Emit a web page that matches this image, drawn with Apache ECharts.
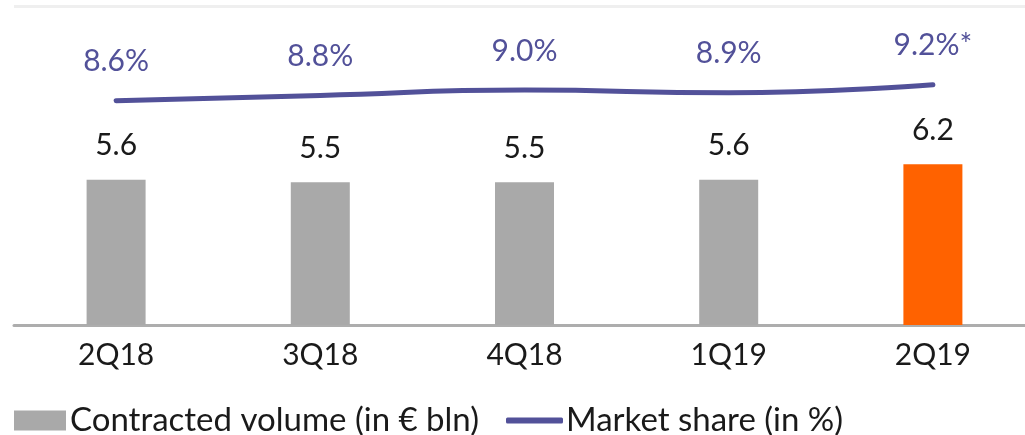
<!DOCTYPE html>
<html>
<head>
<meta charset="utf-8">
<script src="https://cdn.jsdelivr.net/npm/echarts@6/dist/echarts.min.js"></script>
<style>
  html, body { margin: 0; padding: 0; background: #fff; }
  #chart { width: 1025px; height: 435px; }
</style>
</head>
<body>
<div id="chart"></div>
<script>
// quarters and values
var quarters = ['2Q18', '3Q18', '4Q18', '1Q19', '2Q19'];
var volume = [5.6, 5.5, 5.5, 5.6, 6.2];        // contracted volume, € bln
var share = [8.6, 8.8, 9.0, 8.9, 9.2];         // market share, %
var shareNote = ['', '', '', '', '*'];

var grey = '#a9a9a9';
var orange = '#ff6200';
var purple = '#525199';
var font = 'Lato';

var barData = volume.map(function (v, i) {
  return { value: v, itemStyle: { color: i === volume.length - 1 ? orange : grey } };
});

var chart = echarts.init(document.getElementById('chart'));
chart.setOption({
  animation: false,
  textStyle: { fontFamily: font },
  grid: { left: 14, top: 6, width: 1021, height: 319, containLabel: false, outerBoundsMode: 'none' },
  legend: [
    {
      left: 14, top: 404, padding: 0,
      itemWidth: 52, itemHeight: 20,
      icon: 'rect',
      data: [{ name: 'Contracted volume (in € bln)', itemStyle: { color: grey } }],
      textStyle: { fontSize: 33, color: '#1a1a1a', lineHeight: 32, padding: [0, 0, 0, -1] }
    },
    {
      left: 506, top: 404, padding: 0,
      itemWidth: 57, itemHeight: 6,
      icon: 'roundRect',
      data: [{ name: 'Market share (in %)', itemStyle: { color: purple } }],
      textStyle: { fontSize: 33, color: '#1a1a1a', lineHeight: 32, padding: [0, 0, 0, -2] }
    }
  ],
  xAxis: {
    type: 'category',
    data: quarters,
    axisLine: { lineStyle: { color: '#adadad', width: 3 } },
    axisTick: { show: false },
    axisLabel: { fontSize: 30, color: '#1a1a1a', margin: 15, lineHeight: 30 }
  },
  yAxis: [
    {
      type: 'value', min: 0, max: 12.3, interval: 12.3,
      axisLabel: { show: false }, axisLine: { show: false }, axisTick: { show: false },
      splitLine: { lineStyle: { color: '#efefef', width: 3 } }
    },
    {
      type: 'value', min: 0.2, max: 12.15,
      show: false, splitLine: { show: false }
    }
  ],
  series: [
    {
      name: 'Contracted volume (in € bln)',
      type: 'bar',
      barWidth: 59,
      data: barData,
      label: {
        show: true, position: 'top', distance: 19,
        fontSize: 30, lineHeight: 30, color: '#1a1a1a',
        formatter: function (p) { return p.value.toFixed(1); }
      }
    },
    {
      name: 'Market share (in %)',
      type: 'line',
      yAxisIndex: 1,
      smooth: true,
      symbol: 'circle',
      symbolSize: 0,
      showSymbol: true,
      data: share,
      lineStyle: { color: purple, width: 5, cap: 'round' },
      itemStyle: { color: purple },
      label: {
        show: true, position: 'top', distance: 24,
        fontSize: 30, lineHeight: 30, color: purple,
        formatter: function (p) { return p.value.toFixed(1) + '%' + shareNote[p.dataIndex]; }
      }
    }
  ]
});
</script>
</body>
</html>
